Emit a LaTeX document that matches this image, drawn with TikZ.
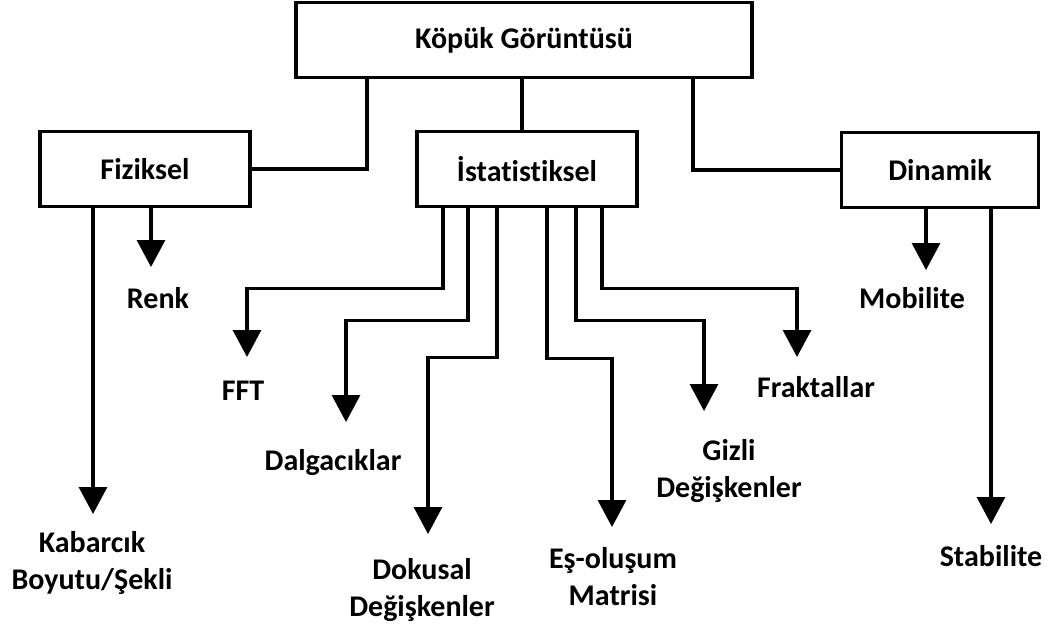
\documentclass[tikz,border=0pt]{standalone}
\usepackage{fontspec}
\setmainfont{Carlito}[Ligatures=NoCommon]
\usetikzlibrary{arrows.meta, positioning}

\begin{document}
\begin{tikzpicture}[x=1pt, y=-1pt,
  box/.style={draw, line width=3.2pt, minimum height=75pt, font=\bfseries\fontsize{30}{37}\selectfont},
  leaf/.style={align=center, inner sep=0pt, font=\bfseries\fontsize{30}{37}\selectfont},
  link/.style={line width=3.2pt},
  arr/.style={line width=3.2pt, -{Triangle[width=28pt, length=27pt]}},
]
  \useasboundingbox (0,0) rectangle (1048,628);

  \node[box, minimum width=456pt] (top) at (524,40) {Köpük Görüntüsü};
  \node[box, minimum width=210pt] (fiz) at (145,169) {Fiziksel};
  \node[box, minimum width=220pt] (stat) at (527,169) {İstatistiksel};
  \node[box, minimum width=197pt] (din) at (940,170) {Dinamik};

  \node[leaf] (renk) at (158,298) {Renk};
  \node[leaf] (kab) at (92,563) {Kabarcık\\Boyutu/Şekli};
  \node[leaf] (fft) at (243,391) {FFT};
  \node[leaf] (dal) at (333,463) {Dalgacıklar};
  \node[leaf] (dok) at (422,590) {Dokusal\\Değişkenler};
  \node[leaf] (es) at (613,577) {Eş-oluşum\\Matrisi};
  \node[leaf] (giz) at (729,471) {Gizli\\Değişkenler};
  \node[leaf] (fra) at (816,387) {Fraktallar};
  \node[leaf] (mob) at (912,298) {Mobilite};
  \node[leaf] (stab) at (991,556) {Stabilite};

  \coordinate (renkT) at (151,267);
  \coordinate (kabT) at (93,514);
  \coordinate (fftT) at (247,357);
  \coordinate (dalT) at (346,422);
  \coordinate (dokT) at (428,534);
  \coordinate (esT) at (612,527);
  \coordinate (gizT) at (704,411);
  \coordinate (fraT) at (797,357);
  \coordinate (mobT) at (926,270);
  \coordinate (stabT) at (991,524);

  \draw[link] ([xshift=-157pt]top.south) |- (fiz.east);
  \draw[link] (top.south -| 522,0) -- (stat.north -| 522,0);
  \draw[link] ([xshift=169pt]top.south) |- (din.west);

  \draw[arr] (fiz.south -| renkT) -- (renkT);
  \draw[arr] (fiz.south -| kabT) -- (kabT);

  \draw[arr] ([xshift=-84pt]stat.south) -- ++(0,80) -| (fftT);
  \draw[arr] ([xshift=-59pt]stat.south) -- ++(0,112) -| (dalT);
  \draw[arr] ([xshift=-30pt]stat.south) -- ++(0,149) -| (dokT);
  \draw[arr] ([xshift=20pt]stat.south) -- ++(0,150) -| (esT);
  \draw[arr] ([xshift=49pt]stat.south) -- ++(0,112) -| (gizT);
  \draw[arr] ([xshift=75pt]stat.south) -- ++(0,80) -| (fraT);

  \draw[arr] (din.south -| mobT) -- (mobT);
  \draw[arr] (din.south -| stabT) -- (stabT);
\end{tikzpicture}
\end{document}
